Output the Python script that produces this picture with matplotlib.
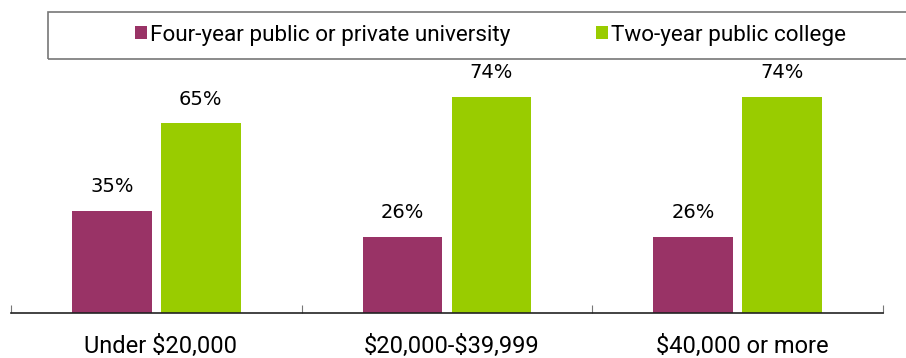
import matplotlib
matplotlib.use("Agg")
import matplotlib.pyplot as plt
from matplotlib.patches import Rectangle
import numpy as np

categories = ["Under $20,000", "$20,000-$39,999", "$40,000 or more"]
four_year = [35, 26, 26]
two_year = [65, 74, 74]
series_names = ["Four-year public or private university", "Two-year public college"]

purple = "#993366"
green = "#99CC00"
label_font = ["Roboto", "DejaVu Sans"]

fig = plt.figure(figsize=(9.06, 3.58), dpi=100)
# axis line runs from x=11 to x=883 px, baseline at y=313 px
ax = fig.add_axes([11 / 906, 45 / 358, 872 / 906, 292 / 358])

x = np.arange(len(categories))
w = 0.275
off = 0.153
b1 = ax.bar(x - off, four_year, w, color=purple)
b2 = ax.bar(x + off, two_year, w, color=green)

for bars, vals in ((b1, four_year), (b2, two_year)):
    for bar, v in zip(bars, vals):
        ax.text(bar.get_x() + bar.get_width() / 2, v + 5, f"{v}%",
                ha="center", va="bottom", fontsize=14, family="DejaVu Sans")

ax.set_xlim(-0.5, len(categories) - 0.5)
ax.set_ylim(0, 100)
ax.set_yticks([])
for s in ("top", "right", "left"):
    ax.spines[s].set_visible(False)
ax.spines["bottom"].set_color("#222222")
ax.spines["bottom"].set_linewidth(1.2)

ax.set_xticks(np.arange(len(categories) + 1) - 0.5)
ax.set_xticklabels([])
ax.tick_params(axis="x", direction="in", length=6, color="#777777")
for xi, c in zip(x, categories):
    ax.text(xi + 0.015, -0.138, c, transform=ax.get_xaxis_transform(), ha="center",
            va="baseline", fontsize=17, family=label_font, parse_math=False)

# legend box, right side runs off the figure
fig.patches.append(Rectangle((48 / 906, 1 - 59 / 358), 880 / 906, 47 / 358,
                             transform=fig.transFigure, fill=False,
                             edgecolor="#777777", linewidth=1.2, clip_on=False))
leg = fig.legend([b1, b2], series_names, loc="center left",
                 bbox_to_anchor=(135 / 906, 1 - 35 / 358), ncol=2, frameon=False,
                 prop={"family": label_font, "size": 16.2}, handlelength=0.54,
                 handleheight=0.54, handletextpad=0.14, columnspacing=3.8,
                 borderpad=0, borderaxespad=0)

fig.savefig("out.png", dpi=100)
